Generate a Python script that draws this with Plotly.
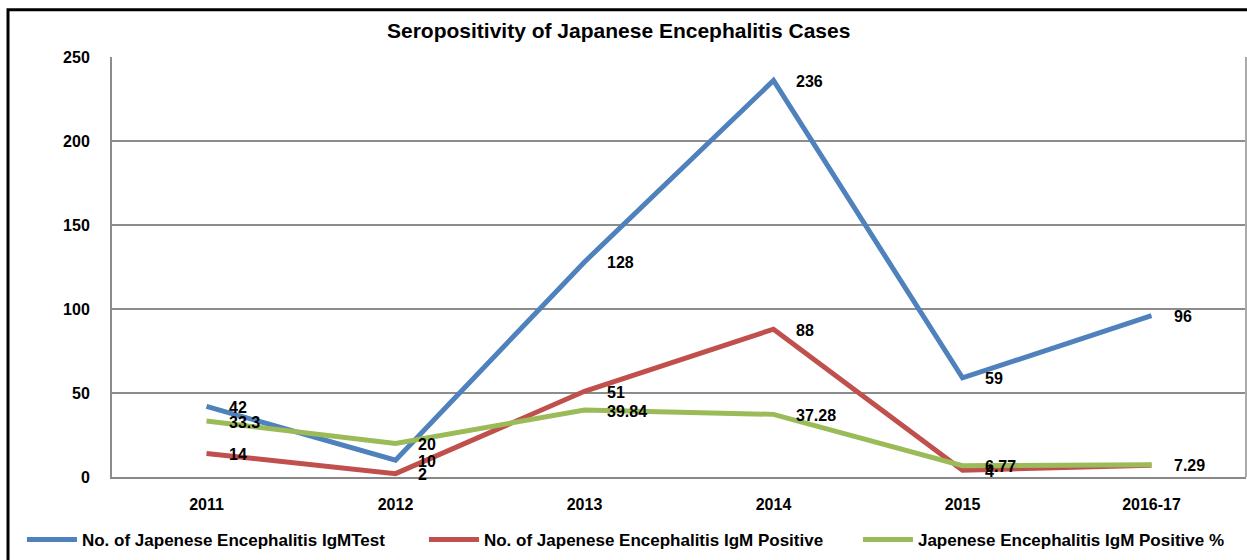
import plotly.graph_objects as go

years = ["2011", "2012", "2013", "2014", "2015", "2016-17"]
igm_test = [42, 10, 128, 236, 59, 96]
igm_positive = [14, 2, 51, 88, 4, 7]
positive_pct = [33.3, 20, 39.84, 37.28, 6.77, 7.29]

names = ["No. of Japenese Encephalitis IgMTest",
         "No. of Japenese Encephalitis IgM Positive",
         "Japenese Encephalitis IgM Positive %"]
colors = ["#4F81BD", "#C0504D", "#9BBB59"]
series = [igm_test, igm_positive, positive_pct]
legend_ids = ["legend", "legend2", "legend3"]
legend_x = [-0.0794, 0.2751, 0.6578]

FONT = "Liberation Sans, Arial, sans-serif"

fig = go.Figure()
annotations = []
for name, color, vals, lid in zip(names, colors, series, legend_ids):
    fig.add_trace(go.Scatter(x=years, y=vals, mode="lines", name=f"<b>{name}</b>",
                             legend=lid, line=dict(color=color, width=5)))
    for i, yv in enumerate(vals):
        # the red 2016-17 label is hidden under the green one in the reference
        if name == names[1] and i == len(vals) - 1:
            continue
        annotations.append(dict(x=i, y=yv, xref="x", yref="y", text=f"<b>{yv}</b>",
                                showarrow=False, xanchor="left", yanchor="middle",
                                xshift=20, yshift=-1,
                                font=dict(family=FONT, size=16, color="black")))

annotations.append(dict(text="<b>Seropositivity of Japanese Encephalitis Cases</b>",
                        xref="paper", yref="paper", x=0.447, y=1.064,
                        xanchor="center", yanchor="middle", showarrow=False,
                        font=dict(family=FONT, size=21, color="black")))

legend_common = dict(orientation="h", xanchor="left", y=-0.15, yanchor="middle",
                     font=dict(family=FONT, size=17, color="black"),
                     itemwidth=50, bgcolor="rgba(0,0,0,0)")

fig.update_layout(
    width=1247, height=560,
    margin=dict(l=112, r=1, t=57, b=83),
    paper_bgcolor="white", plot_bgcolor="white",
    font=dict(family=FONT, size=16, color="black"),
    annotations=annotations,
    showlegend=True,
    legend=dict(x=legend_x[0], **legend_common),
    legend2=dict(x=legend_x[1], **legend_common),
    legend3=dict(x=legend_x[2], **legend_common),
    xaxis=dict(type="category", range=[-0.5, 5.5], showgrid=False,
               showline=True, linecolor="#888888", linewidth=2,
               ticks="", tickfont=dict(family=FONT, size=16, color="black"),
               tickvals=years, ticktext=[f"<b>{y}</b>" for y in years],
               ticklabelstandoff=12),
    yaxis=dict(range=[0, 250], showgrid=True, gridcolor="#8C8C8C", gridwidth=2,
               showline=True, linecolor="#8C8C8C", linewidth=2, zeroline=False,
               ticks="", tickfont=dict(family=FONT, size=16, color="black"),
               tickvals=[0, 50, 100, 150, 200, 250],
               ticktext=[f"<b>{v}</b>" for v in [0, 50, 100, 150, 200, 250]],
               ticklabelstandoff=17),
    shapes=[
        dict(type="rect", xref="paper", yref="paper", x0=-0.0917, x1=1.2, y0=-0.5, y1=1.1125,
             line=dict(color="black", width=3), fillcolor="rgba(0,0,0,0)", layer="above"),
        dict(type="line", xref="paper", yref="paper", x0=1, x1=1, y0=0, y1=1,
             line=dict(color="#AAAAAA", width=2)),
    ],
)

fig.write_html("out.html")
